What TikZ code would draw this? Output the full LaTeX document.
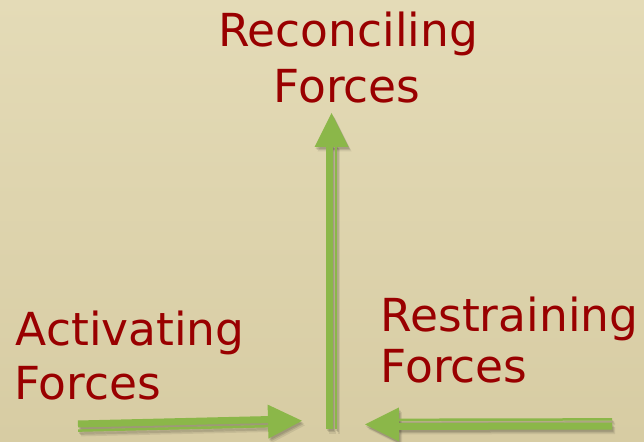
\documentclass[tikz,border=0pt]{standalone}
\usepackage{fontspec}
\setmainfont{DejaVu Sans}
\usetikzlibrary{calc}
\definecolor{forcered}{RGB}{153,0,0}
\definecolor{forcegreen}{RGB}{139,183,73}
\definecolor{bgtop}{RGB}{228,219,183}
\definecolor{bgbot}{RGB}{215,204,163}
\newcommand{\drawforce}[3]{%
  \coordinate (hb) at ($(#2)!34pt!(#1)$);
  \coordinate (se) at ($(#2)!32pt!(#1)$);
  \draw[line width=7pt,#3] ($(#1)!2pt!90:(se)$) -- ($(se)!2pt!-90:(#1)$);
  \draw[line width=2.5pt,#3] ($(#1)!-4.6pt!90:(se)$) -- ($(se)!-4.6pt!-90:(#1)$);
  \fill[#3] (#2) -- ($(hb)!17pt!90:(#2)$) -- ($(hb)!17pt!-90:(#2)$) -- cycle;
}
\begin{document}
\begin{tikzpicture}[x=1pt,y=1pt,
  lbl/.style={text=forcered,font=\fontsize{45.5}{54}\selectfont,inner sep=0pt}]
\useasboundingbox (0,0) rectangle (644,441);
\shade[top color=bgtop,bottom color=bgbot] (0,0) rectangle (644,441);
% labels
\node[lbl,anchor=base] (rec1) at (348,394) {Reconciling};
\node[lbl,anchor=base] (rec2) at (347,338) {Forces};
\node[lbl,anchor=base west] (act1) at (15.6,95) {Activating};
\node[lbl,anchor=base west] (act2) at (14,41) {Forces};
\node[lbl,anchor=base west] (res1) at (380.6,109) {Restraining};
\node[lbl,anchor=base west] (res2) at (380.6,58) {Forces};
% arrow end points
\coordinate (actS) at (78,15);
\coordinate (actT) at (302,20.2);
\coordinate (resS) at (612,17);
\coordinate (resT) at (365,16.5);
\coordinate (recS) at (331.5,12);
\coordinate (recT) at (331.5,328);
% soft shadows
\foreach \dx/\dy/\op in {1/-2/0.10,2/-3/0.10,3/-4.5/0.08}{
  \begin{scope}[transform canvas={shift={(\dx pt,\dy pt)}}]
    \drawforce{actS}{actT}{black,opacity=\op}
    \drawforce{resS}{resT}{black,opacity=\op}
    \drawforce{recS}{recT}{black,opacity=\op}
  \end{scope}
}
% arrows
\drawforce{actS}{actT}{forcegreen}
\drawforce{resS}{resT}{forcegreen}
\drawforce{recS}{recT}{forcegreen}
\end{tikzpicture}
\end{document}
